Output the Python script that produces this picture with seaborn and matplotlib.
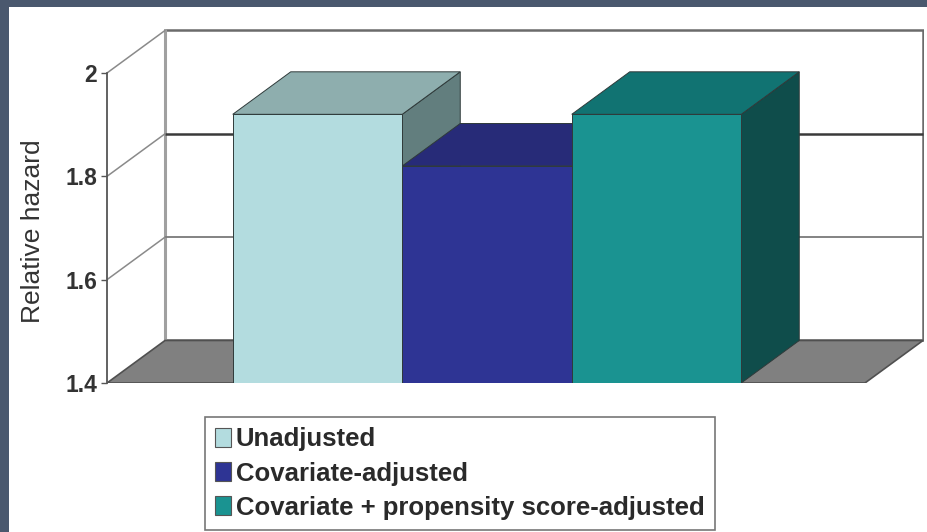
import numpy as np
import pandas as pd
import matplotlib
matplotlib.use("Agg")
import matplotlib.pyplot as plt
import seaborn as sns
from matplotlib.patches import Polygon, Rectangle, Patch

################ DATA ################
groups = ["Unadjusted", "Covariate-adjusted", "Covariate + propensity score-adjusted"]
hazard = [1.92, 1.82, 1.92]
y_ticks = [1.4, 1.6, 1.8, 2.0]
y_tick_labels = ["1.4", "1.6", "1.8", "2"]

front_colors = ["#b3dcdf", "#2e3494", "#1a9391"]
top_colors = ["#8eaeae", "#272b78", "#117372"]
side_colors = ["#627e7e", "#1c2060", "#0f4d4b"]

df = pd.DataFrame({"group": groups, "hazard": hazard})

################ STYLE ################
sns.set_style("white")
plt.rcParams["font.family"] = ["Liberation Sans", "DejaVu Sans"]

W, H = 928, 532
fig = plt.figure(figsize=(W / 100, H / 100), dpi=100, facecolor="#4a586e")
fig.patches.append(Rectangle((9 / W, 0), 1, 1 - 7 / H, transform=fig.transFigure,
                             facecolor="white", edgecolor="none", zorder=-5))

# axes placed so that the front plane matches the reference
px_left, px_right, px_bottom, px_top = 107, 924, 383, 29
ax = fig.add_axes([px_left / W, 1 - px_bottom / H,
                   (px_right - px_left) / W, (px_bottom - px_top) / H])
ax.set_facecolor("none")

px_per_cat = 169.5
px_per_unit = 516.7
x_lo = (px_left - 317.5) / px_per_cat
x_hi = (px_right - 317.5) / px_per_cat
y_lo = 1.4
y_hi = 1.4 + (px_bottom - px_top) / px_per_unit
dx = 58 / px_per_cat      # depth offset (categories)
dy = 42.5 / px_per_unit   # depth offset (value units)

################ FRONT FACES ################
sns.barplot(data=df, x="group", y="hazard", hue="group", palette=front_colors,
            saturation=1, width=1.0, legend=False, ax=ax,
            edgecolor="#2f3a3a", linewidth=0.7)
bars = list(ax.patches)

ax.set_xlim(x_lo, x_hi)
ax.set_ylim(y_lo, y_hi)

################ WALLS AND FLOOR ################
x_back = x_lo + dx
x_wall_r = x_hi - 0.006
x_floor_r = x_wall_r - dx

ax.add_patch(Rectangle((x_back, y_lo + dy), x_wall_r - x_back, 0.6,
                       facecolor="white", edgecolor="#6b6b6b", linewidth=1.8, zorder=0.5))
ax.plot([x_back, x_back], [y_lo + dy, 2.0 + dy], color="#a0a0a0", lw=2.2, zorder=0.6)
ax.hlines(1.8 + dy, x_back, x_wall_r, color="#3a3a3a", lw=1.8, zorder=0.7)
ax.hlines(1.6 + dy, x_back, x_wall_r, color="#7a7a7a", lw=1.3, zorder=0.7)
for v in y_ticks[1:]:
    ax.plot([x_lo, x_back], [v, v + dy], color="#8a8a8a", lw=1.1, zorder=0.7)

ax.add_patch(Polygon([(x_lo, y_lo), (x_floor_r, y_lo), (x_floor_r + dx, y_lo + dy),
                      (x_back, y_lo + dy)], closed=True, facecolor="#808080",
                     edgecolor="#505050", linewidth=1.2, zorder=1))

################ 3D TOPS AND SIDES ################
for i, bar in enumerate(bars):
    x0 = bar.get_x()
    w = bar.get_width()
    h = bar.get_y() + bar.get_height()
    side = Polygon([(x0 + w, h), (x0 + w + dx, h + dy), (x0 + w + dx, y_lo + dy),
                    (x0 + w, y_lo)], closed=True, facecolor=side_colors[i],
                   edgecolor="#2f3a3a", linewidth=0.7, zorder=3 + 3 * i)
    top = Polygon([(x0, h), (x0 + w, h), (x0 + w + dx, h + dy), (x0 + dx, h + dy)],
                  closed=True, facecolor=top_colors[i], edgecolor="#2f3a3a",
                  linewidth=0.7, zorder=4 + 3 * i)
    ax.add_patch(side)
    ax.add_patch(top)
    bar.set_zorder(5 + 3 * i)

################ AXES ################
for s in ["top", "right", "bottom"]:
    ax.spines[s].set_visible(False)
ax.spines["left"].set_bounds(1.4, 2.0)
ax.spines["left"].set_color("#555555")
ax.spines["left"].set_linewidth(1.3)
ax.set_xticks([])
ax.set_xlabel("")
ax.set_yticks(y_ticks, labels=y_tick_labels)
ax.tick_params(axis="y", direction="out", length=4, width=1, color="#555555",
               pad=3, labelsize=16.5, labelcolor="#333333", left=True)
for lab in ax.get_yticklabels():
    lab.set_fontweight("bold")
ax.set_ylabel("Relative hazard", fontsize=19, color="#333333")
ax.yaxis.set_label_coords((45 - px_left) / (px_right - px_left), 0.43)

################ LEGEND ################
handles = [Patch(facecolor=c, edgecolor="#555555", linewidth=0.8) for c in front_colors]
leg = fig.legend(handles, groups, loc="upper left",
                 bbox_to_anchor=(205 / W, 1 - 417 / H), frameon=True, fancybox=False,
                 prop={"size": 18.5, "weight": "bold"}, handlelength=0.6,
                 handleheight=0.75, handletextpad=0.2, labelspacing=0.4,
                 borderpad=0.4, borderaxespad=0)
leg.get_frame().set_edgecolor("#555555")
leg.get_frame().set_linewidth(1.2)
for t in leg.get_texts():
    t.set_color("#2a2a2a")

fig.savefig("out.png", dpi=100, facecolor=fig.get_facecolor())
